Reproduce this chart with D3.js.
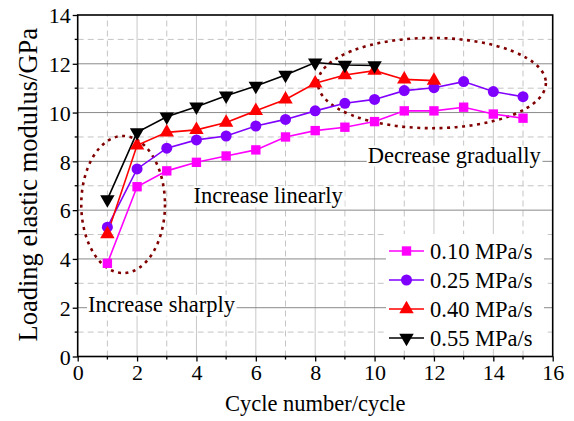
<!DOCTYPE html>
<html>
<head>
<meta charset="utf-8">
<script src="https://cdn.jsdelivr.net/npm/d3@7"></script>
<style>
  body { margin: 0; background: #fff; }
  svg { display: block; font-family: "Liberation Serif", "Times New Roman", serif; }
</style>
</head>
<body>
<div id="container"></div>
<script>
/* CONSTANTS AND GLOBALS */
const width = 574,
  height = 421,
  margin = {top: 15, right: 21.3, bottom: 64.5, left: 77.7},
  fontSize = 22.5;

// cycle numbers
const cycles = [1, 2, 3, 4, 5, 6, 7, 8, 9, 10, 11, 12, 13, 14, 15];

// loading elastic modulus (GPa), one array per loading rate
const rate010 = [3.82, 6.96, 7.61, 7.96, 8.22, 8.47, 9.0, 9.26, 9.40, 9.63, 10.07, 10.07, 10.22, 9.94, 9.77];
const rate025 = [5.30, 7.69, 8.54, 8.88, 9.04, 9.45, 9.72, 10.07, 10.38, 10.54, 10.90, 11.02, 11.27, 10.86, 10.65];
const rate040 = [5.02, 8.66, 9.19, 9.29, 9.59, 10.07, 10.54, 11.20, 11.54, 11.72, 11.36, 11.31];
const rate055 = [6.44, 9.19, 9.83, 10.24, 10.69, 11.09, 11.54, 12.05, 11.95, 11.93];

const seriesNames = ["0.10 MPa/s", "0.25 MPa/s", "0.40 MPa/s", "0.55 MPa/s"];
const seriesColors = ["#ff00ff", "#8000ff", "#ff0000", "#000000"];

const xTicks = [0, 2, 4, 6, 8, 10, 12, 14, 16];
const yTicks = [0, 2, 4, 6, 8, 10, 12, 14];

// annotations (data units)
const notes = [
  {text: "Increase linearly", x: 3.9, y: 6.28},
  {text: "Increase sharply", x: 0.35, y: 1.83},
  {text: "Decrease gradually", x: 9.77, y: 7.95}
];
const ovals = [
  {cx: 1.53, cy: 6.23, rx: 1.41, ry: 2.81},
  {cx: 11.93, cy: 11.21, rx: 3.84, ry: 1.85}
];

const series = [rate010, rate025, rate040, rate055].map((vals, i) => ({
  name: seriesNames[i],
  color: seriesColors[i],
  symbol: [d3.symbolSquare, d3.symbolCircle, d3.symbolTriangle, d3.symbolTriangle][i],
  size: [88, 95, 90, 90][i],
  flip: i === 3,
  points: vals.map((v, j) => ({x: cycles[j], y: v}))
}));

/* SVG */
const svg = d3.select("#container")
  .append("svg")
  .attr("width", width)
  .attr("height", height);

/* SCALES */
const xScale = d3.scaleLinear()
  .domain([0, 16])
  .range([margin.left, width - margin.right]);

const yScale = d3.scaleLinear()
  .domain([0, 14])
  .range([height - margin.bottom, margin.top]);

const x0 = xScale(0), x1 = xScale(16), y0 = yScale(0), y1 = yScale(14);

// minor grid (dashed, odd values)
d3.range(1, 16, 2).forEach(v => {
  svg.append("line")
    .attr("x1", xScale(v)).attr("x2", xScale(v))
    .attr("y1", y0).attr("y2", y1)
    .attr("stroke", "#c4c4c4").attr("stroke-dasharray", "6,4");
});
d3.range(1, 14, 2).forEach(v => {
  svg.append("line")
    .attr("x1", x0).attr("x2", x1)
    .attr("y1", yScale(v)).attr("y2", yScale(v))
    .attr("stroke", "#c4c4c4").attr("stroke-dasharray", "6,4");
});
// major grid
xTicks.slice(1, -1).forEach(v => {
  svg.append("line")
    .attr("x1", xScale(v)).attr("x2", xScale(v))
    .attr("y1", y0).attr("y2", y1)
    .attr("stroke", "#c8c8c8");
});
yTicks.slice(1, -1).forEach(v => {
  svg.append("line")
    .attr("x1", x0).attr("x2", x1)
    .attr("y1", yScale(v)).attr("y2", yScale(v))
    .attr("stroke", "#8a8a8a");
});

// annotation texts with white boxes
notes.forEach(d => {
  const g = svg.append("g");
  const t = g.append("text")
    .attr("x", xScale(d.x))
    .attr("y", yScale(d.y))
    .style("font-size", fontSize + "px")
    .text(d.text);
  const b = t.node().getBBox();
  g.insert("rect", "text")
    .attr("x", b.x - 1).attr("y", b.y + 3)
    .attr("width", b.width + 2).attr("height", b.height - 4)
    .attr("fill", "#fff");
});

// dotted ovals
ovals.forEach(d => {
  svg.append("ellipse")
    .attr("cx", xScale(d.cx))
    .attr("cy", yScale(d.cy))
    .attr("rx", xScale(d.rx) - xScale(0))
    .attr("ry", yScale(0) - yScale(d.ry))
    .attr("fill", "none")
    .attr("stroke", "#800000")
    .attr("stroke-width", 2.6)
    .attr("stroke-dasharray", "3,4.5");
});

/* LINES AND MARKERS */
const line = d3.line().x(d => xScale(d.x)).y(d => yScale(d.y));

series.forEach(s => {
  svg.append("path")
    .datum(s.points)
    .attr("d", line)
    .attr("fill", "none")
    .attr("stroke", s.color)
    .attr("stroke-width", 1.6);
});
series.forEach(s => {
  svg.selectAll(null)
    .data(s.points)
    .join("path")
    .attr("transform", d => `translate(${xScale(d.x)},${yScale(d.y)})` + (s.flip ? " rotate(180)" : ""))
    .attr("d", d3.symbol(s.symbol, s.size))
    .attr("fill", s.color);
});

/* LEGEND */
const legX = 389, legY = 251, legStep = 29;
svg.append("rect")
  .attr("x", legX - 3).attr("y", legY - 17)
  .attr("width", 158).attr("height", legStep * 4 - 1)
  .attr("fill", "#fff");
series.forEach((s, i) => {
  const yy = legY + i * legStep;
  svg.append("line")
    .attr("x1", legX).attr("x2", legX + 35)
    .attr("y1", yy).attr("y2", yy)
    .attr("stroke", s.color).attr("stroke-width", 1.6);
  svg.append("path")
    .attr("transform", `translate(${legX + 17.5},${yy})` + (s.flip ? " rotate(180)" : ""))
    .attr("d", d3.symbol(s.symbol, s.size))
    .attr("fill", s.color);
  svg.append("text")
    .attr("x", legX + 41)
    .attr("y", yy)
    .attr("dy", "0.35em")
    .style("font-size", fontSize + "px")
    .text(s.name);
});

/* AXES */
const xAxis = d3.axisBottom(xScale).tickValues(xTicks).tickSize(5).tickSizeOuter(0).tickPadding(3);
const gx = svg.append("g")
  .attr("transform", `translate(0, ${y0})`)
  .call(xAxis);
const yAxis = d3.axisLeft(yScale).tickValues(yTicks).tickSize(5).tickSizeOuter(0).tickPadding(2);
const gy = svg.append("g")
  .attr("transform", `translate(${x0}, 0)`)
  .call(yAxis);
[gx, gy].forEach(g => {
  g.select(".domain").remove();
  g.selectAll("text").style("font-size", "22px").style("font-family", "Liberation Serif").attr("fill", "#000");
  g.selectAll("line").attr("stroke-width", 1.3);
});
gy.selectAll("text").attr("dy", "0.35em");

// minor ticks
d3.range(1, 16, 2).forEach(v => {
  svg.append("line").attr("x1", xScale(v)).attr("x2", xScale(v))
    .attr("y1", y0).attr("y2", y0 + 3).attr("stroke", "#000").attr("stroke-width", 1.3);
});
d3.range(1, 14, 2).forEach(v => {
  svg.append("line").attr("x1", x0).attr("x2", x0 - 3)
    .attr("y1", yScale(v)).attr("y2", yScale(v)).attr("stroke", "#000").attr("stroke-width", 1.3);
});

// frame
svg.append("rect")
  .attr("x", x0).attr("y", y1)
  .attr("width", x1 - x0).attr("height", y0 - y1)
  .attr("fill", "none").attr("stroke", "#000").attr("stroke-width", 1.6);

// axis titles
svg.append("text")
  .attr("text-anchor", "middle")
  .attr("x", (x0 + x1) / 2)
  .attr("y", 411)
  .style("font-size", fontSize + "px")
  .text("Cycle number/cycle");

svg.append("text")
  .attr("text-anchor", "middle")
  .attr("transform", `translate(37, ${(y0 + y1) / 2 - 1}) rotate(-90)`)
  .style("font-size", "26.5px")
  .text("Loading elastic modulus/GPa");
</script>
</body>
</html>
